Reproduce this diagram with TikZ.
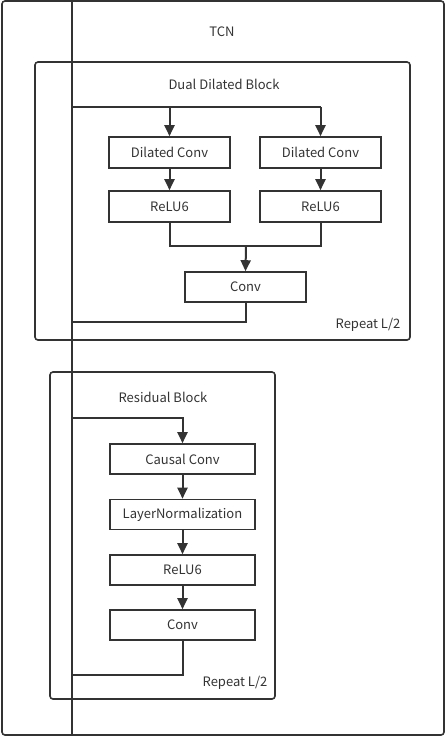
\documentclass[tikz,border=0pt]{standalone}
\usepackage{fontspec}
\setmainfont{Noto Sans CJK SC}
\usetikzlibrary{arrows.meta}
\definecolor{ink}{HTML}{333333}
\begin{document}
\begin{tikzpicture}[x=1pt,y=-1pt,
  frame/.style={draw=ink,line width=1.6pt,rounded corners=3pt},
  blk/.style={draw=ink,line width=1.6pt,minimum height=31pt,inner sep=0pt,font=\fontsize{13}{15}\selectfont,text=ink},
  lbl/.style={font=\fontsize{13}{15}\selectfont,text=ink,inner sep=0pt},
  wire/.style={draw=ink,line width=2pt},
  arr/.style={wire,-{Triangle[length=11pt,width=10pt]}}]
\useasboundingbox (0,0) rectangle (446,737);
% outer frames
\draw[frame] (2,1) rectangle (444,735);
\draw[frame] (35,62) rectangle (410,340);
\draw[frame] (50,372) rectangle (275,699);
% labels
\node[lbl] (tcn) at (222,32) {TCN};
\node[lbl] (ddb) at (224,84) {Dual Dilated Block};
\node[lbl] (rb) at (163,397) {Residual Block};
\node[lbl] (rep1) at (368,325) {Repeat L/2};
\node[lbl] (rep2) at (235,683) {Repeat L/2};
% main line
\coordinate (top) at (72,0);
\coordinate (bot) at (72,735);
\draw[wire] (top) -- (bot);
% dual dilated block
\node[blk,minimum width=121pt] (dc1) at (169.5,152.5) {Dilated Conv};
\node[blk,minimum width=121pt] (dc2) at (320.5,152.5) {Dilated Conv};
\node[blk,minimum width=121pt] (r1) at (169.5,206.5) {ReLU6};
\node[blk,minimum width=121pt] (r2) at (320.5,206.5) {ReLU6};
\node[blk,minimum width=121pt,minimum height=30pt] (cv) at (245.5,287) {Conv};
\coordinate (s1) at (72,107);
\draw[wire] (s1) -- (dc2.north |- s1);
\draw[arr] (dc1.north |- s1) -- (dc1.north);
\draw[arr] (dc2.north |- s1) -- (dc2.north);
\draw[arr] (dc1) -- (r1);
\draw[arr] (dc2) -- (r2);
\coordinate (m) at (246,246);
\draw[wire] (r1.south) |- (m) -| (r2.south);
\draw[arr] (m) -- (cv.north);
\coordinate (o1) at (72,322);
\draw[wire] (cv.south) |- (o1);
% residual block
\node[blk,minimum width=145pt,minimum height=30pt] (cc) at (182.5,459) {Causal Conv};
\node[blk,minimum width=145pt,minimum height=30pt] (ln) at (182.5,514.5) {LayerNormalization};
\node[blk,minimum width=145pt,minimum height=30pt] (rr) at (182.5,570) {ReLU6};
\node[blk,minimum width=145pt,minimum height=30pt] (c2) at (182.5,625) {Conv};
\coordinate (s2) at (72,418);
\draw[arr] (s2) -| (cc.north);
\draw[arr] (cc) -- (ln);
\draw[arr] (ln) -- (rr);
\draw[arr] (rr) -- (c2);
\coordinate (o2) at (72,675);
\draw[wire] (c2.south) |- (o2);
\end{tikzpicture}
\end{document}
